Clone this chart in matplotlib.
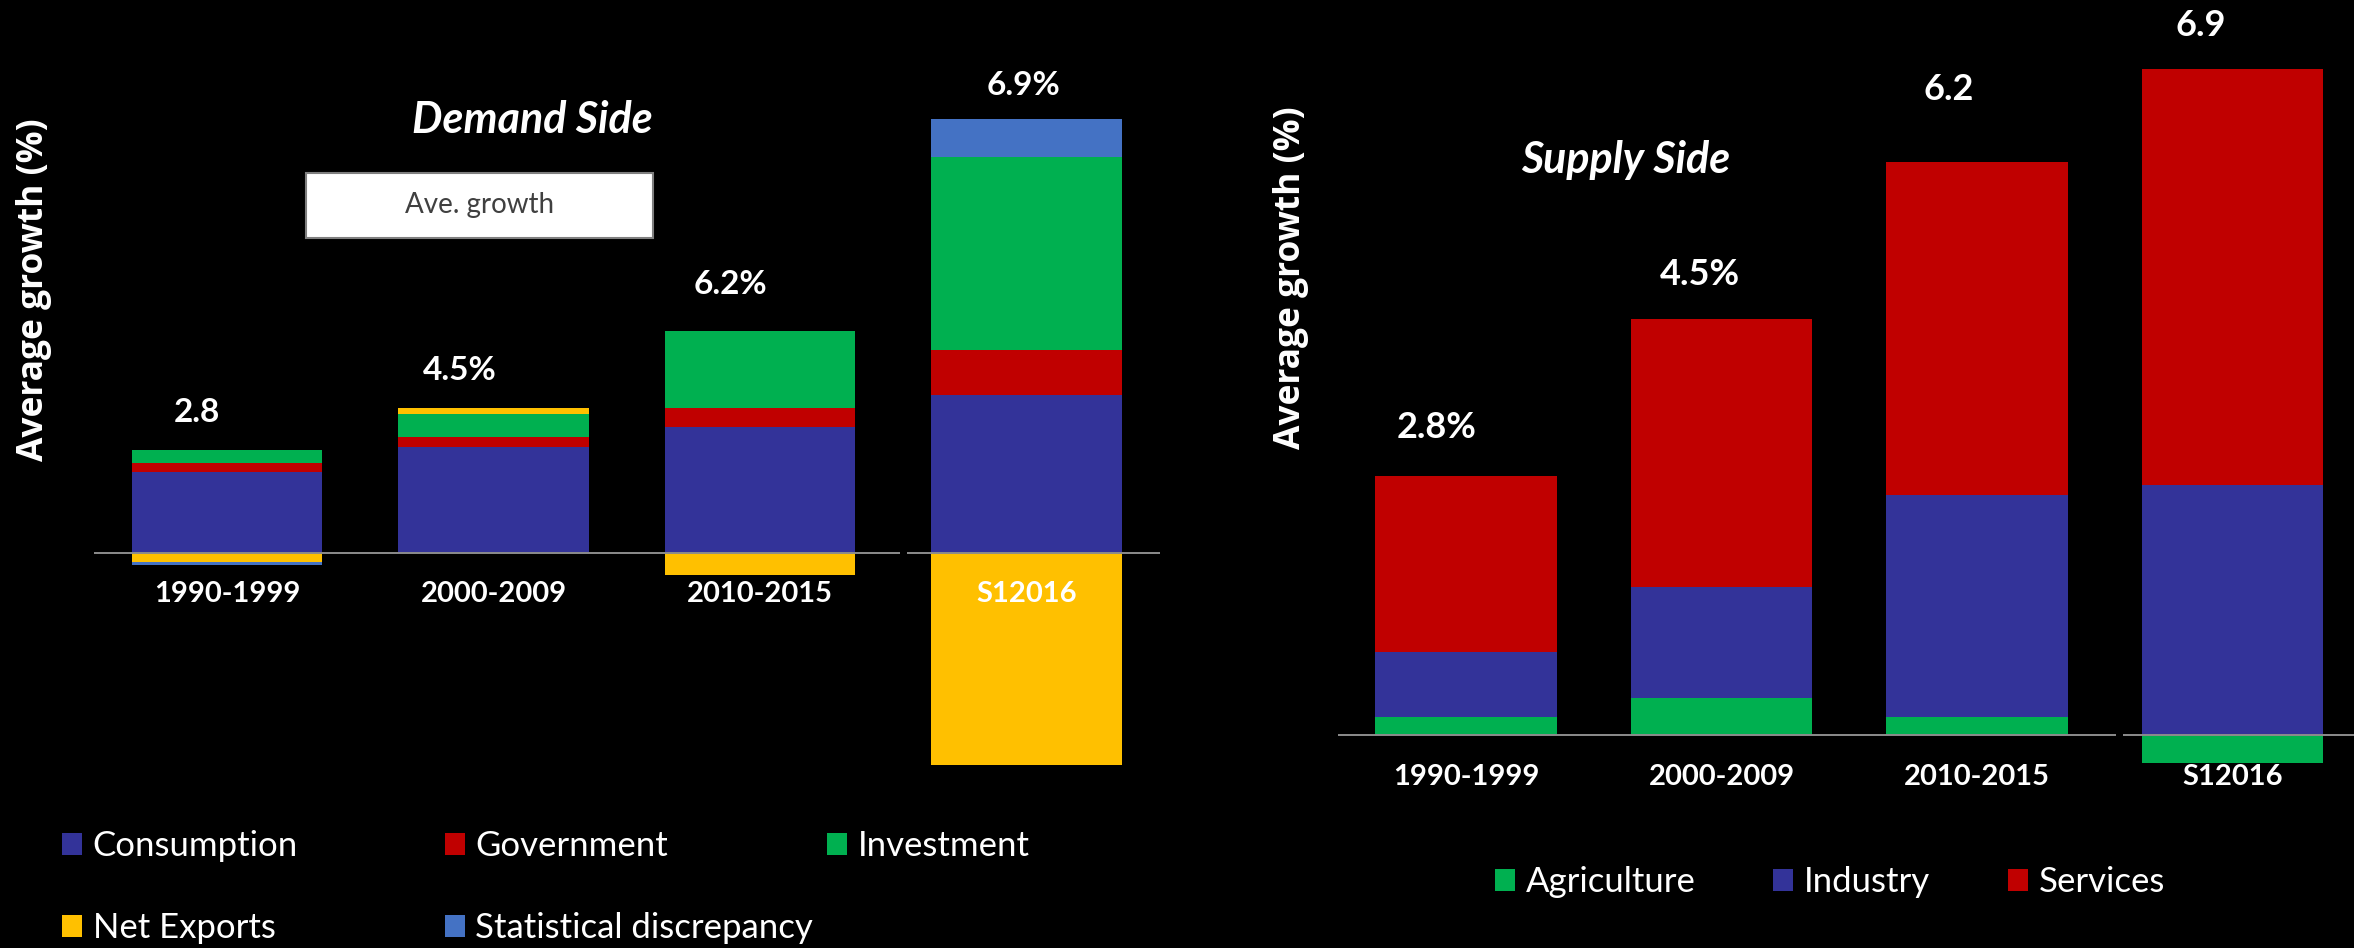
import matplotlib
matplotlib.use("Agg")
import matplotlib.pyplot as plt
from matplotlib.patches import Rectangle

# ---- data ----
periods = ["1990-1999", "2000-2009", "2010-2015", "S12016"]

demand_series = ["Consumption", "Government", "Investment", "Net Exports", "Statistical discrepancy"]
consumption = [2.5, 3.3, 3.9, 4.9]
government = [0.3, 0.3, 0.6, 1.4]
investment = [0.4, 0.7, 2.4, 6.0]
net_exports = [-0.3, 0.2, -0.7, -6.6]
stat_discrepancy = [-0.1, 0.0, 0.0, 1.2]
demand_suffix = ["", "%", "%", "%"]

supply_series = ["Agriculture", "Industry", "Services"]
agriculture = [0.2, 0.4, 0.2, -0.3]
industry = [0.7, 1.2, 2.4, 2.7]
services = [1.9, 2.9, 3.6, 4.5]
supply_suffix = ["%", "%", "", ""]

# ---- styles ----
NAVY = "#333399"
RED = "#C00000"
GREEN = "#00B050"
GOLD = "#FFC000"
BLUE = "#4472C4"
LINE = "#8C8C8C"

W, H = 2354, 948
DPI = 100


def fx(px):
    return px / W


def fy(py):
    return 1 - py / H


def stack(ax, rows, colors, width):
    """Stacked bars, positives going up and negatives going down."""
    n = len(rows[0])
    pos = [0.0] * n
    neg = [0.0] * n
    bars = []
    for vals, col in zip(rows, colors):
        bottoms = [pos[i] if v >= 0 else neg[i] for i, v in enumerate(vals)]
        b = ax.bar(range(n), vals, width=width, bottom=bottoms, color=col,
                   linewidth=0, zorder=2)
        bars.append(b)
        for i, v in enumerate(vals):
            if v >= 0:
                pos[i] += v
            else:
                neg[i] += v
    return bars, pos


fig = plt.figure(figsize=(W / DPI, H / DPI), dpi=DPI, facecolor="black")

# ---------------- demand side ----------------
axL = fig.add_axes([0, 0, fx(1200), 1])
axL.set_facecolor("none")
axL.axis("off")
pitch, x0, scale, zero = 266.5, 227, 32.15, 552.6
axL.set_xlim(-x0 / pitch, (1200 - x0) / pitch)
axL.set_ylim(-(H - zero) / scale, zero / scale)

dem_rows = [consumption, government, investment, net_exports, stat_discrepancy]
dem_colors = [NAVY, RED, GREEN, GOLD, BLUE]
dem_bars, dem_top = stack(axL, dem_rows, dem_colors, 0.713)

axL.hlines(0, -0.5, 2.525, color=LINE, lw=1.4, zorder=3)
axL.hlines(0, 2.55, 3.5, color=LINE, lw=1.4, zorder=3)

for i, p in enumerate(periods):
    axL.annotate(p, (i, 0), xytext=(0, -41 * 0.72), textcoords="offset points",
                 ha="center", va="center", color="white", fontsize=21,
                 fontfamily="Lato", fontweight="bold", zorder=4)

dem_offsets = [(-30, 37), (-34, 37), (-30, 46), (-3, 33)]
for i, (dx, dy) in enumerate(dem_offsets):
    total = sum(r[i] for r in dem_rows)
    axL.annotate(f"{total:.1f}{demand_suffix[i]}", (i, dem_top[i]),
                 xytext=(dx * 0.72, dy * 0.72), textcoords="offset points",
                 ha="center", va="center", color="white", fontsize=24,
                 fontfamily="Lato", fontweight="bold")

fig.text(fx(532), fy(120), "Demand Side", ha="center", va="center", color="white",
         fontsize=31, fontfamily="Lato", fontweight="bold", fontstyle="italic")

# "Ave. growth" box
fig.patches.append(Rectangle((fx(306), fy(237.6)), fx(653) - fx(306), fy(173) - fy(237.6),
                             transform=fig.transFigure, facecolor="white",
                             edgecolor="#7F7F7F", lw=1.5))
fig.text(fx(479.5), fy(205), "Ave. growth", ha="center", va="center", color="#404040",
         fontsize=20, fontfamily="Lato")

fig.text(fx(34), fy(290), "Average growth (%)", rotation=90, ha="center", va="center",
         color="white", fontsize=25.5, fontfamily="Open Sans", fontweight="bold")

# ---------------- supply side ----------------
axR = fig.add_axes([fx(1200), 0, fx(1154), 1])
axR.set_facecolor("none")
axR.axis("off")
pitch, x0, scale, zero = 255.5, 1466, 92.5, 735.2
axR.set_xlim((1200 - x0) / pitch, (W - x0) / pitch)
axR.set_ylim(-(H - zero) / scale, zero / scale)

sup_rows = [agriculture, industry, services]
sup_colors = [GREEN, NAVY, RED]
sup_bars, sup_top = stack(axR, sup_rows, sup_colors, 0.712)

axR.hlines(0, -0.5, 2.545, color=LINE, lw=1.4, zorder=3)
axR.hlines(0, 2.57, 3.6, color=LINE, lw=1.4, zorder=3)

for i, p in enumerate(periods):
    axR.annotate(p, (i, 0), xytext=(0, -42 * 0.72), textcoords="offset points",
                 ha="center", va="center", color="white", fontsize=21,
                 fontfamily="Lato", fontweight="bold", zorder=4)

sup_offsets = [(-29, 49), (-22, 44), (-28, 72), (-32, 44)]
for i, (dx, dy) in enumerate(sup_offsets):
    total = sum(r[i] for r in sup_rows)
    axR.annotate(f"{total:.1f}{supply_suffix[i]}", (i, sup_top[i]),
                 xytext=(dx * 0.72, dy * 0.72), textcoords="offset points",
                 ha="center", va="center", color="white", fontsize=26,
                 fontfamily="Lato", fontweight="bold")

fig.text(fx(1626), fy(160), "Supply Side", ha="center", va="center", color="white",
         fontsize=31, fontfamily="Lato", fontweight="bold", fontstyle="italic")

fig.text(fx(1291), fy(277.5), "Average growth (%)", rotation=90, ha="center", va="center",
         color="white", fontsize=25.5, fontfamily="Open Sans", fontweight="bold")

# ---------------- legends (one entry each, laid out on a grid) ----------------
dem_slots = [(62, 846), (444.6, 846), (827, 846), (62, 928), (444.6, 928)]
sup_slots = [(1495, 882), (1773, 882), (2008, 882)]
entries = list(zip(dem_bars, demand_series, dem_slots)) + \
    list(zip(sup_bars, supply_series, sup_slots))
for handle, name, (lx, ly) in entries:
    leg = fig.legend([handle], [name], loc="center left",
                     bbox_to_anchor=(fx(lx), fy(ly)), frameon=False,
                     handlelength=0.58, handleheight=0.6, handletextpad=0.3,
                     borderpad=0, borderaxespad=0,
                     prop={"family": "Lato", "size": 25})
    for t in leg.get_texts():
        t.set_color("white")

fig.savefig("out.png", dpi=DPI, facecolor="black")
